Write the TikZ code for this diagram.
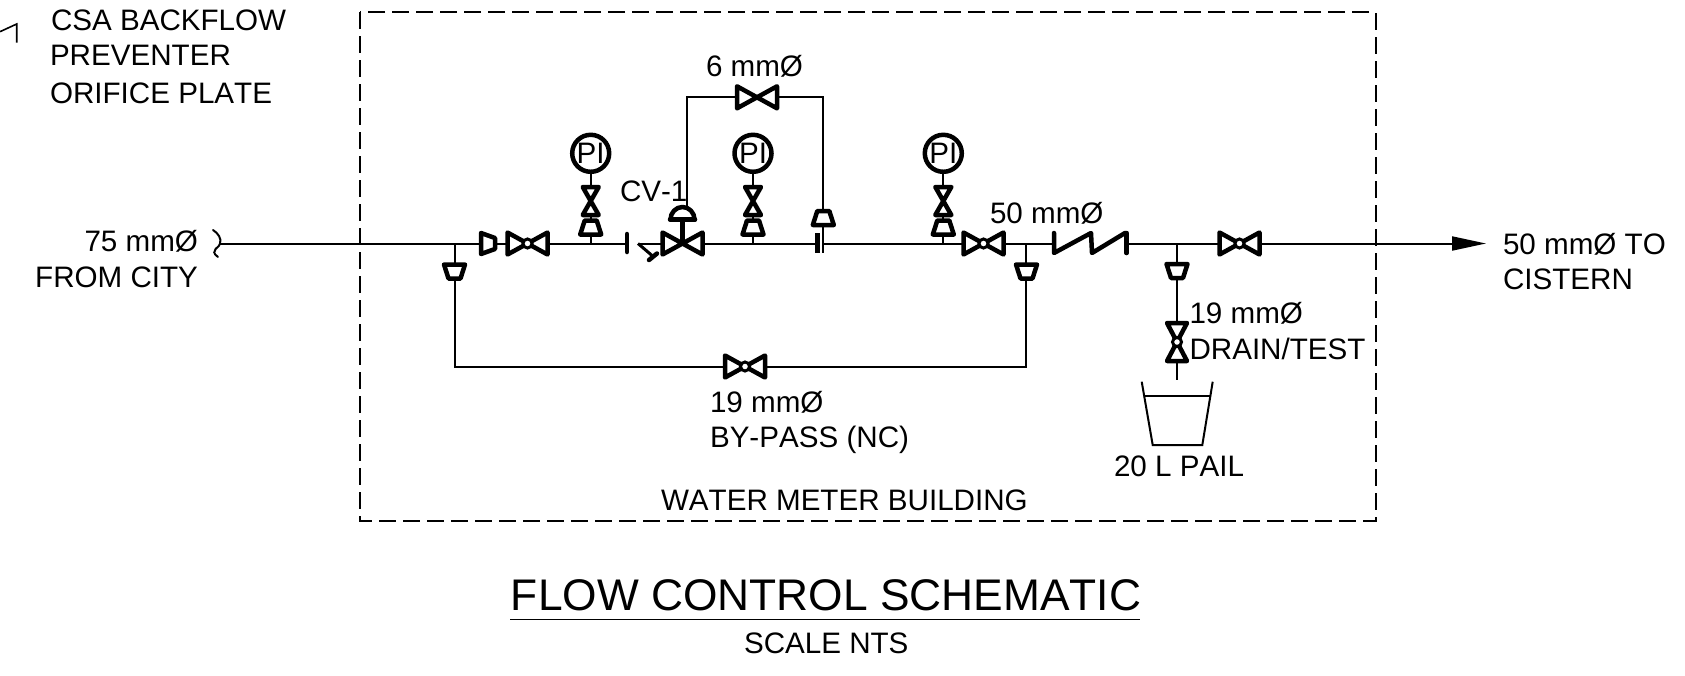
\documentclass[tikz,border=0pt]{standalone}
\usepackage{fontspec}
\setmainfont[Kerning=Off]{Liberation Sans}
\usetikzlibrary{arrows.meta}
\newcommand{\fsN}{\fontsize{29.6}{32}\selectfont}
\newcommand{\fsT}{\fontsize{44.3}{48}\selectfont}
\tikzset{
  pipe/.style={line width=2pt,line cap=butt,line join=miter},
  sym/.style={line width=4.5pt,line join=round,line cap=round,fill=white},
  lab/.style={anchor=base west,inner sep=0pt,outer sep=0pt,font=\fsN},
  labr/.style={anchor=base east,inner sep=0pt,outer sep=0pt,font=\fsN},
  pigauge/.style={circle,draw,line width=4.5pt,minimum size=37pt,inner sep=0pt,font=\fsN,fill=white},
  valveh/.pic={\draw[sym] (-20,-11)--(20,11)--(20,-11)--(-20,11)--cycle;},
  valvehc/.pic={\draw[sym] (-20,-11)--(20,11)--(20,-11)--(-20,11)--cycle;
     \draw[line width=3pt,fill=white] (0,0) circle (4.5);},
  valvev/.pic={\draw[sym] (-8,-14)--(8,14)--(-8,14)--(8,-14)--cycle;},
  valvevc/.pic={\draw[sym] (-10,-19)--(10,19)--(-10,19)--(10,-19)--cycle;
     \draw[line width=3pt,fill=white] (0,0) circle (4.5);},
  trapdown/.pic={\draw[sym] (-10.5,-7)--(10.5,-7)--(6,7)--(-6,7)--cycle;},
  trapup/.pic={\draw[sym] (-6,-7)--(6,-7)--(10.5,7)--(-10.5,7)--cycle;},
}
\begin{document}
\begin{tikzpicture}[x=1pt,y=-1pt]
\useasboundingbox (0,0) rectangle (1685,675);
% main line coordinates
\coordinate (m0) at (220,243.5);
\coordinate (s1) at (480,243.5);
\coordinate (s2) at (496,243.5);
\coordinate (v1a) at (507,243.5);
\coordinate (v1b) at (548,243.5);
\coordinate (fl) at (627,243.5);
\coordinate (tee) at (638,243.5);
\coordinate (cva) at (662,243.5);
\coordinate (cvb) at (703,243.5);
\coordinate (ora) at (817.5,243.5);
\coordinate (orb) at (823,243.5);
\coordinate (v3a) at (962,243.5);
\coordinate (v3b) at (1005,243.5);
\coordinate (cka) at (1053.5,243.5);
\coordinate (ckb) at (1126.5,243.5);
\coordinate (v4a) at (1219,243.5);
\coordinate (v4b) at (1260,243.5);
\coordinate (tip) at (1486,243.5);
% branch coordinates
\coordinate (bl0) at (454.5,243.5);
\coordinate (bl1) at (454.5,366.5);
\coordinate (br0) at (1026,243.5);
\coordinate (br1) at (1026,366.5);
\coordinate (d0) at (1177,243.5);
\coordinate (d1) at (1177,380);
\coordinate (pa) at (686.7,208);
\coordinate (pb) at (686.7,97.3);
\coordinate (pc) at (823.3,97.3);
\coordinate (pd) at (823.3,243.5);
\coordinate (g1) at (590.7,243.5);
\coordinate (g2) at (753,243.5);
\coordinate (g3) at (943.3,243.5);
% dashed building
\draw[line width=2pt,dash pattern=on 17pt off 7pt] (360,12) rectangle (1375.5,521);
% pipes
\draw[pipe] (m0)--(s1) (s2)--(v1a) (v1b)--(fl) (tee)--(cva) (cvb)--(ora) (orb)--(v3a) (v3b)--(cka) (ckb)--(v4a);
\draw[pipe,-{Triangle[length=34pt,width=14pt]}] (v4b)--(tip);
\draw[pipe,line cap=round] (213,230) .. controls (218,233) and (222,239) .. (m0) .. controls (221,247) and (208,250) .. (218,257);
\draw[pipe] (bl0)--(bl1)--(br1)--(br0);
\draw[pipe] (d0)--(d1);
\draw[pipe] (pa)--(pb)--(pc)--(pd);
% PI instruments
\node[pigauge] (pi1) at (590.7,153.3) {PI};
\node[pigauge] (pi2) at (753,153.3) {PI};
\node[pigauge] (pi3) at (943.3,153.3) {PI};
\draw[pipe] (pi1)--(g1);
\draw[pipe] (pi2)--(g2);
\draw[pipe] (pi3)--(g3);
\foreach \x in {590.7,753,943.3}{
  \pic at (\x,201) {valvev};
  \pic at (\x,227.5) {trapup};
}
% strainer-type reducer and valves
\draw[sym] (481,233)--(495,238)--(495,249)--(481,254)--cycle;
\pic at (527.5,243.5) {valvehc};
\pic at (983.5,243.5) {valvehc};
\pic at (1239.5,243.5) {valvehc};
\pic at (745,366.5) {valvehc};
\pic at (757,97.3) {valveh};
\pic at (682.5,243.5) {valveh};
% CV-1 actuator
\draw[line width=4.5pt,line join=round] (682.5,243.5)--(682.5,219.5);
\draw[sym] (670.5,219.5) arc[start angle=180,end angle=360,x radius=12,y radius=12.5];
\draw[sym] (670,219.5)--(695,219.5);
% flange and test point
\draw[line width=4.5pt,line cap=round] (627,234)--(627,252);
\draw[pipe,line width=3pt] (tee)--(652,255.5);
\draw[line width=4.5pt,line cap=round] (649,260)--(657,253.5);
% orifice plate
\draw[line width=4.5pt,line cap=butt] (817.5,233)--(817.5,253);
\draw[line width=2.5pt,line cap=butt] (823,233)--(823,253);
\pic at (823.3,218) {trapup};
% branch reducers
\pic at (454.5,271.5) {trapdown};
\pic at (1026.5,271.5) {trapdown};
\pic at (1177,271) {trapdown};
\pic at (1177,342) {valvevc};
% check valve
\draw[line width=4.5pt,line join=round,line cap=round] (1054,233)--(1054,253)--(1091,233)--(1092,253)--(1125,233);
\draw[line width=4.5pt,line cap=round] (1126.5,233)--(1126.5,253);
% pail
\coordinate (pl) at (1141.7,381.7);
\coordinate (pr) at (1212.7,381.7);
\draw[pipe] (pl)--(1152.7,445)--(1202.3,445)--(pr);
\draw[pipe] (1144.3,396)--(1210.2,396);
% top-left fragment
\draw[line width=1.6pt] (0,31.7)--(16.7,24)--(16.7,42.7);
% labels
\node[lab] (t1) at (51,30) {CSA BACKFLOW};
\node[lab] (t2) at (50,65) {PREVENTER};
\node[lab] (t3) at (50,103.5) {ORIFICE PLATE};
\node[labr] (t4) at (198,251) {75 mmØ};
\node[labr] (t5) at (198,287.5) {FROM CITY};
\node[lab] (t6) at (706,76) {6 mmØ};
\node[lab] (t7) at (620,201) {CV-1};
\node[lab] (t8) at (990,223) {50 mmØ};
\node[lab] (t9) at (1503,254.5) {50 mmØ TO};
\node[lab] (t10) at (1503,289) {CISTERN};
\node[lab] (t11) at (1189.5,323) {19 mmØ};
\node[lab] (t12) at (1189.5,359) {DRAIN/TEST};
\node[lab] (t13) at (710,412.5) {19 mmØ};
\node[lab] (t14) at (710,447) {BY-PASS (NC)};
\node[lab] (t15) at (1114,476) {20 L PAIL};
\node[lab] (t16) at (661,510) {WATER METER BUILDING};
\node[anchor=base,inner sep=0pt,font=\fsT] (title) at (826,610) {FLOW CONTROL SCHEMATIC};
\coordinate (ul) at (510,619.5);
\coordinate (ur) at (1140,619.5);
\draw[line width=1.6pt] (ul)--(ur);
\node[lab] (t17) at (744,653) {SCALE NTS};
\end{tikzpicture}
\end{document}
